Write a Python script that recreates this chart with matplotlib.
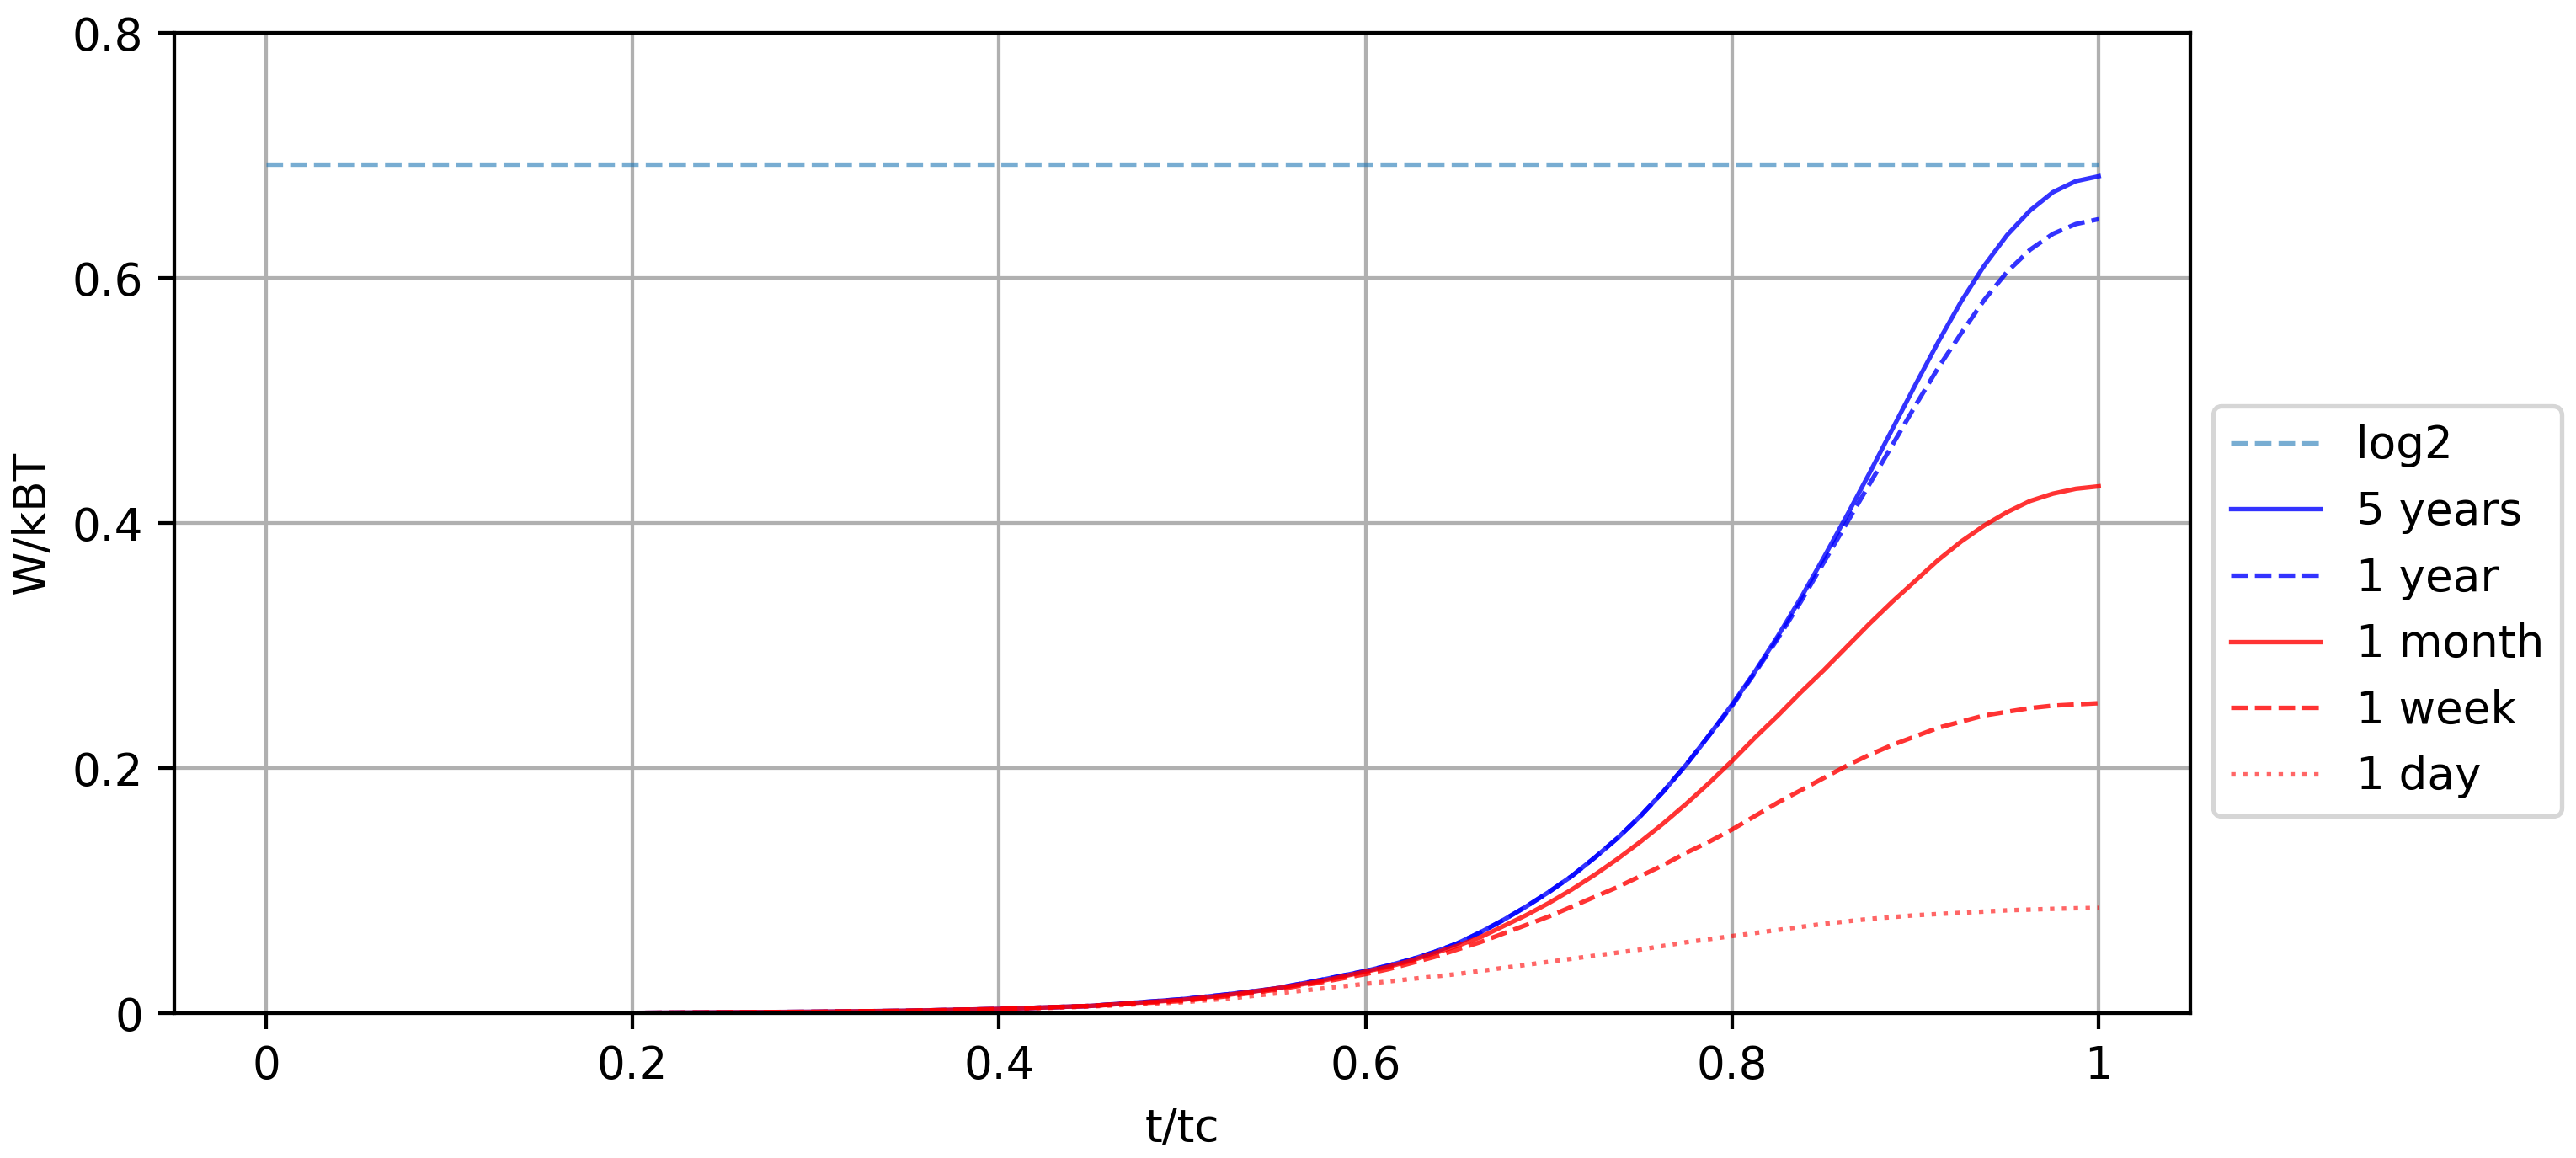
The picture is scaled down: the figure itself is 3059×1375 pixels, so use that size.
import matplotlib
matplotlib.use('Agg')
import matplotlib.pyplot as plt
import numpy as np
from matplotlib.ticker import FuncFormatter

# data
t = [0, 0.1, 0.2, 0.3, 0.35, 0.4, 0.45, 0.5, 0.525, 0.55, 0.575,
     0.6, 0.6125, 0.625, 0.6375, 0.65, 0.6625, 0.675, 0.6875,
     0.7, 0.7125, 0.725, 0.7375, 0.75, 0.7625, 0.775, 0.7875,
     0.8, 0.8125, 0.825, 0.8375, 0.85, 0.8625, 0.875, 0.8875,
     0.9, 0.9125, 0.925, 0.9375, 0.95, 0.9625, 0.975, 0.9875, 1.0]

w_5years = [0, 0, 0.0003, 0.0012, 0.002, 0.0035, 0.006, 0.0115, 0.0155, 0.020, 0.027,
            0.0345, 0.039, 0.044, 0.050, 0.057, 0.066, 0.076, 0.087,
            0.099, 0.112, 0.127, 0.143, 0.161, 0.181, 0.203, 0.227,
            0.252, 0.279, 0.308, 0.339, 0.372, 0.406, 0.441, 0.477,
            0.513, 0.548, 0.581, 0.610, 0.635, 0.655, 0.670, 0.679, 0.683]
w_1year = [0, 0, 0.0003, 0.0012, 0.002, 0.0035, 0.006, 0.0115, 0.0155, 0.020, 0.027,
           0.0345, 0.039, 0.044, 0.050, 0.057, 0.066, 0.076, 0.087,
           0.099, 0.112, 0.127, 0.143, 0.161, 0.181, 0.203, 0.227,
           0.251, 0.278, 0.306, 0.336, 0.368, 0.400, 0.432, 0.464,
           0.496, 0.527, 0.555, 0.582, 0.605, 0.623, 0.636, 0.644, 0.648]
w_1month = [0, 0, 0.0003, 0.0012, 0.002, 0.0035, 0.006, 0.011, 0.015, 0.020, 0.026,
            0.034, 0.038, 0.043, 0.049, 0.055, 0.062, 0.071, 0.080,
            0.090, 0.101, 0.113, 0.126, 0.140, 0.155, 0.171, 0.188,
            0.206, 0.225, 0.243, 0.262, 0.280, 0.299, 0.318, 0.336,
            0.353, 0.370, 0.385, 0.398, 0.409, 0.418, 0.424, 0.428, 0.430]
w_1week = [0, 0, 0.0003, 0.0012, 0.002, 0.0035, 0.006, 0.010, 0.014, 0.019, 0.025,
           0.032, 0.036, 0.041, 0.046, 0.052, 0.058, 0.065, 0.072,
           0.079, 0.087, 0.095, 0.103, 0.112, 0.121, 0.131, 0.140,
           0.150, 0.161, 0.172, 0.182, 0.192, 0.202, 0.211, 0.219,
           0.226, 0.233, 0.238, 0.243, 0.246, 0.249, 0.251, 0.252, 0.253]
w_1day = [0, 0, 0.0003, 0.0011, 0.0018, 0.003, 0.0055, 0.009, 0.012, 0.016, 0.020,
          0.024, 0.026, 0.028, 0.030, 0.032, 0.0345, 0.037, 0.0395,
          0.042, 0.0445, 0.047, 0.0495, 0.052, 0.055, 0.058, 0.0605,
          0.063, 0.0655, 0.068, 0.0705, 0.073, 0.075, 0.077, 0.0785,
          0.080, 0.081, 0.082, 0.083, 0.084, 0.0846, 0.0852, 0.0857, 0.086]

log2 = np.log(2)

xticks = [0, 0.2, 0.4, 0.6, 0.8, 1.0]
yticks = [0, 0.2, 0.4, 0.6, 0.8]

fig, ax = plt.subplots(figsize=(8, 1375 / 382.375))
fig.subplots_adjust(left=0.0677, right=0.8503, top=0.9716, bottom=0.125)

ax.plot([t[0], t[-1]], [log2, log2], color='C0', alpha=0.6, linestyle='--', linewidth=1.0, label='log2')
ax.plot(t, w_5years, color='blue', alpha=0.8, linestyle='-', linewidth=1.0, label='5 years')
ax.plot(t, w_1year, color='blue', alpha=0.8, linestyle='--', linewidth=1.0, label='1 year')
ax.plot(t, w_1month, color='red', alpha=0.8, linestyle='-', linewidth=1.0, label='1 month')
ax.plot(t, w_1week, color='red', alpha=0.8, linestyle='--', linewidth=1.0, label='1 week')
ax.plot(t, w_1day, color='red', alpha=0.6, linestyle=':', linewidth=1.0, label='1 day')

ax.set_ylim(0, 0.8)
ax.set_xticks(xticks)
ax.set_yticks(yticks)
fmt = FuncFormatter(lambda v, pos: '%g' % v)
ax.xaxis.set_major_formatter(fmt)
ax.yaxis.set_major_formatter(fmt)
ax.grid(True)

ax.set_xlabel('t/tc')
ax.set_ylabel('W/kBT')

ax.legend(loc='center left', bbox_to_anchor=(1, 0.41))

fig.savefig('out.png', dpi=382.375)
